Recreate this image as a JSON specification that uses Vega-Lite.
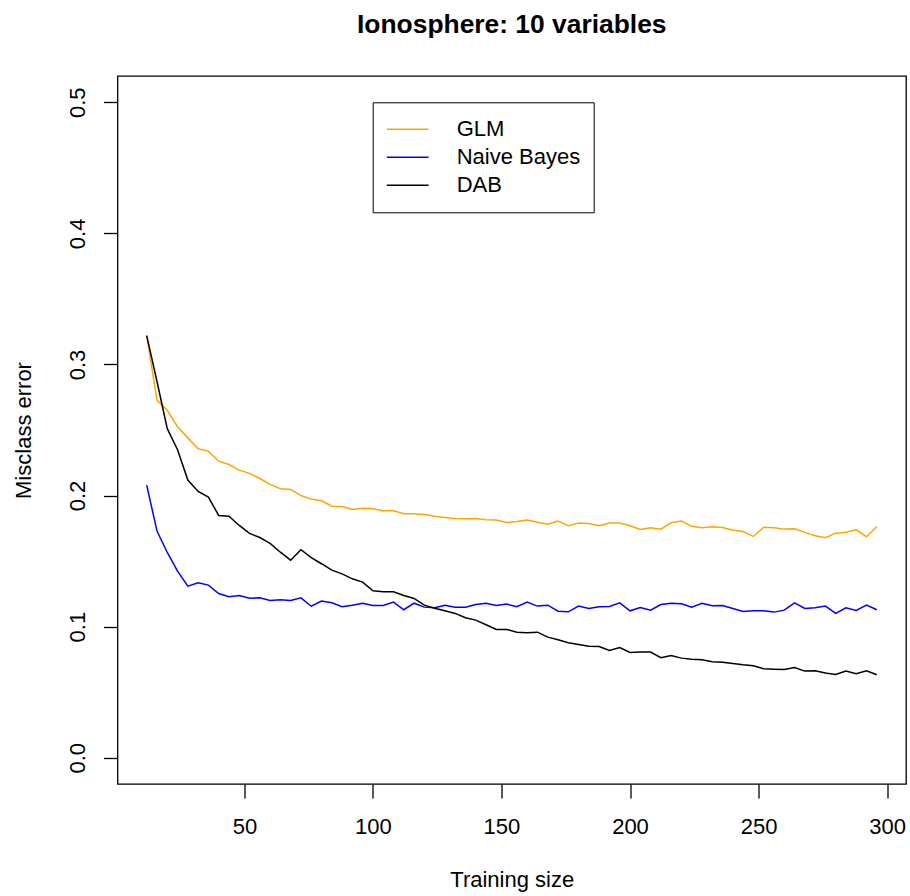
{
  "$schema": "https://vega.github.io/schema/vega-lite/v6.json",
  "autosize": "none",
  "padding": {"left": 117.5, "top": 76, "right": 4, "bottom": 112},
  "width": 788.5,
  "height": 708,
  "background": "white",
  "title": {
    "text": "Ionosphere: 10 variables",
    "font": "Liberation Sans",
    "fontSize": 26.4,
    "fontWeight": "bold",
    "color": "black",
    "anchor": "middle",
    "baseline": "alphabetic",
    "offset": 17
  },
  "config": {
    "view": {"stroke": "black", "strokeWidth": 1.3},
    "font": "Liberation Sans"
  },
  "data": {
    "values": [
      {"x":12,"model":"GLM","err":0.322},{"x":16,"model":"GLM","err":0.2728},{"x":20,"model":"GLM","err":0.265},{"x":24,"model":"GLM","err":0.2525},{"x":28,"model":"GLM","err":0.244},{"x":32,"model":"GLM","err":0.2357},{"x":36,"model":"GLM","err":0.2339},{"x":40,"model":"GLM","err":0.2262},{"x":44,"model":"GLM","err":0.2237},{"x":48,"model":"GLM","err":0.2194},{"x":52,"model":"GLM","err":0.2169},{"x":56,"model":"GLM","err":0.213},{"x":60,"model":"GLM","err":0.2085},{"x":64,"model":"GLM","err":0.2052},{"x":68,"model":"GLM","err":0.2047},{"x":72,"model":"GLM","err":0.2},{"x":76,"model":"GLM","err":0.1973},{"x":80,"model":"GLM","err":0.196},{"x":84,"model":"GLM","err":0.1919},{"x":88,"model":"GLM","err":0.1917},{"x":92,"model":"GLM","err":0.1894},{"x":96,"model":"GLM","err":0.1904},{"x":100,"model":"GLM","err":0.1899},{"x":104,"model":"GLM","err":0.1884},{"x":108,"model":"GLM","err":0.1884},{"x":112,"model":"GLM","err":0.1861},{"x":116,"model":"GLM","err":0.1861},{"x":120,"model":"GLM","err":0.1856},{"x":124,"model":"GLM","err":0.1843},{"x":128,"model":"GLM","err":0.1833},{"x":132,"model":"GLM","err":0.1825},{"x":136,"model":"GLM","err":0.1823},{"x":140,"model":"GLM","err":0.1825},{"x":144,"model":"GLM","err":0.1815},{"x":148,"model":"GLM","err":0.1813},{"x":152,"model":"GLM","err":0.1795},{"x":156,"model":"GLM","err":0.1802},{"x":160,"model":"GLM","err":0.1813},{"x":164,"model":"GLM","err":0.1797},{"x":168,"model":"GLM","err":0.1782},{"x":172,"model":"GLM","err":0.1805},{"x":176,"model":"GLM","err":0.177},{"x":180,"model":"GLM","err":0.179},{"x":184,"model":"GLM","err":0.1787},{"x":188,"model":"GLM","err":0.177},{"x":192,"model":"GLM","err":0.179},{"x":196,"model":"GLM","err":0.179},{"x":200,"model":"GLM","err":0.177},{"x":204,"model":"GLM","err":0.1741},{"x":208,"model":"GLM","err":0.1754},{"x":212,"model":"GLM","err":0.1744},{"x":216,"model":"GLM","err":0.1792},{"x":220,"model":"GLM","err":0.1805},{"x":224,"model":"GLM","err":0.1765},{"x":228,"model":"GLM","err":0.1754},{"x":232,"model":"GLM","err":0.1762},{"x":236,"model":"GLM","err":0.1757},{"x":240,"model":"GLM","err":0.1736},{"x":244,"model":"GLM","err":0.1726},{"x":248,"model":"GLM","err":0.1688},{"x":252,"model":"GLM","err":0.1759},{"x":256,"model":"GLM","err":0.1754},{"x":260,"model":"GLM","err":0.1744},{"x":264,"model":"GLM","err":0.1747},{"x":268,"model":"GLM","err":0.1719},{"x":272,"model":"GLM","err":0.1693},{"x":276,"model":"GLM","err":0.1678},{"x":280,"model":"GLM","err":0.1713},{"x":284,"model":"GLM","err":0.1721},{"x":288,"model":"GLM","err":0.1739},{"x":292,"model":"GLM","err":0.1686},{"x":296,"model":"GLM","err":0.1762},
      {"x":12,"model":"Naive Bayes","err":0.208},{"x":16,"model":"Naive Bayes","err":0.1729},{"x":20,"model":"Naive Bayes","err":0.1566},{"x":24,"model":"Naive Bayes","err":0.1424},{"x":28,"model":"Naive Bayes","err":0.1309},{"x":32,"model":"Naive Bayes","err":0.1335},{"x":36,"model":"Naive Bayes","err":0.1317},{"x":40,"model":"Naive Bayes","err":0.1253},{"x":44,"model":"Naive Bayes","err":0.1228},{"x":48,"model":"Naive Bayes","err":0.1238},{"x":52,"model":"Naive Bayes","err":0.1217},{"x":56,"model":"Naive Bayes","err":0.122},{"x":60,"model":"Naive Bayes","err":0.12},{"x":64,"model":"Naive Bayes","err":0.1205},{"x":68,"model":"Naive Bayes","err":0.12},{"x":72,"model":"Naive Bayes","err":0.122},{"x":76,"model":"Naive Bayes","err":0.1156},{"x":80,"model":"Naive Bayes","err":0.1195},{"x":84,"model":"Naive Bayes","err":0.1182},{"x":88,"model":"Naive Bayes","err":0.1152},{"x":92,"model":"Naive Bayes","err":0.1164},{"x":96,"model":"Naive Bayes","err":0.1179},{"x":100,"model":"Naive Bayes","err":0.1162},{"x":104,"model":"Naive Bayes","err":0.1162},{"x":108,"model":"Naive Bayes","err":0.1187},{"x":112,"model":"Naive Bayes","err":0.1129},{"x":116,"model":"Naive Bayes","err":0.1179},{"x":120,"model":"Naive Bayes","err":0.1149},{"x":124,"model":"Naive Bayes","err":0.1144},{"x":128,"model":"Naive Bayes","err":0.1164},{"x":132,"model":"Naive Bayes","err":0.1149},{"x":136,"model":"Naive Bayes","err":0.1149},{"x":140,"model":"Naive Bayes","err":0.1169},{"x":144,"model":"Naive Bayes","err":0.1178},{"x":148,"model":"Naive Bayes","err":0.1162},{"x":152,"model":"Naive Bayes","err":0.1172},{"x":156,"model":"Naive Bayes","err":0.1152},{"x":160,"model":"Naive Bayes","err":0.1187},{"x":164,"model":"Naive Bayes","err":0.1157},{"x":168,"model":"Naive Bayes","err":0.1164},{"x":172,"model":"Naive Bayes","err":0.1118},{"x":176,"model":"Naive Bayes","err":0.1113},{"x":180,"model":"Naive Bayes","err":0.1157},{"x":184,"model":"Naive Bayes","err":0.1139},{"x":188,"model":"Naive Bayes","err":0.1152},{"x":192,"model":"Naive Bayes","err":0.1154},{"x":196,"model":"Naive Bayes","err":0.1182},{"x":200,"model":"Naive Bayes","err":0.1121},{"x":204,"model":"Naive Bayes","err":0.1146},{"x":208,"model":"Naive Bayes","err":0.1126},{"x":212,"model":"Naive Bayes","err":0.1169},{"x":216,"model":"Naive Bayes","err":0.1179},{"x":220,"model":"Naive Bayes","err":0.1174},{"x":224,"model":"Naive Bayes","err":0.1148},{"x":228,"model":"Naive Bayes","err":0.1179},{"x":232,"model":"Naive Bayes","err":0.1159},{"x":236,"model":"Naive Bayes","err":0.1162},{"x":240,"model":"Naive Bayes","err":0.1139},{"x":244,"model":"Naive Bayes","err":0.1116},{"x":248,"model":"Naive Bayes","err":0.1121},{"x":252,"model":"Naive Bayes","err":0.1121},{"x":256,"model":"Naive Bayes","err":0.1111},{"x":260,"model":"Naive Bayes","err":0.1126},{"x":264,"model":"Naive Bayes","err":0.1182},{"x":268,"model":"Naive Bayes","err":0.1139},{"x":272,"model":"Naive Bayes","err":0.1144},{"x":276,"model":"Naive Bayes","err":0.1157},{"x":280,"model":"Naive Bayes","err":0.1101},{"x":284,"model":"Naive Bayes","err":0.1144},{"x":288,"model":"Naive Bayes","err":0.1124},{"x":292,"model":"Naive Bayes","err":0.1164},{"x":296,"model":"Naive Bayes","err":0.1129},
      {"x":12,"model":"DAB","err":0.322},{"x":16,"model":"DAB","err":0.287},{"x":20,"model":"DAB","err":0.251},{"x":24,"model":"DAB","err":0.235},{"x":28,"model":"DAB","err":0.2118},{"x":32,"model":"DAB","err":0.2031},{"x":36,"model":"DAB","err":0.1988},{"x":40,"model":"DAB","err":0.1848},{"x":44,"model":"DAB","err":0.1843},{"x":48,"model":"DAB","err":0.1772},{"x":52,"model":"DAB","err":0.1711},{"x":56,"model":"DAB","err":0.168},{"x":60,"model":"DAB","err":0.1635},{"x":64,"model":"DAB","err":0.1568},{"x":68,"model":"DAB","err":0.1507},{"x":72,"model":"DAB","err":0.1587},{"x":76,"model":"DAB","err":0.1526},{"x":80,"model":"DAB","err":0.148},{"x":84,"model":"DAB","err":0.1431},{"x":88,"model":"DAB","err":0.1403},{"x":92,"model":"DAB","err":0.1365},{"x":96,"model":"DAB","err":0.134},{"x":100,"model":"DAB","err":0.1274},{"x":104,"model":"DAB","err":0.1266},{"x":108,"model":"DAB","err":0.1266},{"x":112,"model":"DAB","err":0.1238},{"x":116,"model":"DAB","err":0.1215},{"x":120,"model":"DAB","err":0.1164},{"x":124,"model":"DAB","err":0.1141},{"x":128,"model":"DAB","err":0.1121},{"x":132,"model":"DAB","err":0.1101},{"x":136,"model":"DAB","err":0.1068},{"x":140,"model":"DAB","err":0.105},{"x":144,"model":"DAB","err":0.1015},{"x":148,"model":"DAB","err":0.0979},{"x":152,"model":"DAB","err":0.0979},{"x":156,"model":"DAB","err":0.0958},{"x":160,"model":"DAB","err":0.0953},{"x":164,"model":"DAB","err":0.0958},{"x":168,"model":"DAB","err":0.092},{"x":172,"model":"DAB","err":0.09},{"x":176,"model":"DAB","err":0.0877},{"x":180,"model":"DAB","err":0.0864},{"x":184,"model":"DAB","err":0.0851},{"x":188,"model":"DAB","err":0.0849},{"x":192,"model":"DAB","err":0.0818},{"x":196,"model":"DAB","err":0.0841},{"x":200,"model":"DAB","err":0.0803},{"x":204,"model":"DAB","err":0.0806},{"x":208,"model":"DAB","err":0.0806},{"x":212,"model":"DAB","err":0.0763},{"x":216,"model":"DAB","err":0.078},{"x":220,"model":"DAB","err":0.076},{"x":224,"model":"DAB","err":0.0752},{"x":228,"model":"DAB","err":0.0747},{"x":232,"model":"DAB","err":0.0732},{"x":236,"model":"DAB","err":0.0729},{"x":240,"model":"DAB","err":0.0719},{"x":244,"model":"DAB","err":0.0709},{"x":248,"model":"DAB","err":0.0702},{"x":252,"model":"DAB","err":0.0679},{"x":256,"model":"DAB","err":0.0676},{"x":260,"model":"DAB","err":0.0674},{"x":264,"model":"DAB","err":0.0689},{"x":268,"model":"DAB","err":0.0661},{"x":272,"model":"DAB","err":0.0663},{"x":276,"model":"DAB","err":0.0646},{"x":280,"model":"DAB","err":0.0636},{"x":284,"model":"DAB","err":0.0661},{"x":288,"model":"DAB","err":0.0641},{"x":292,"model":"DAB","err":0.0663},{"x":296,"model":"DAB","err":0.0633}
    ]
  },
  "mark": {"type": "line", "strokeWidth": 1.5, "clip": true},
  "encoding": {
    "x": {
      "field": "x",
      "type": "quantitative",
      "scale": {"domain": [0.64, 307.36], "nice": false, "zero": false},
      "axis": {
        "title": "Training size",
        "values": [50, 100, 150, 200, 250, 300],
        "grid": false,
        "domain": false,
        "tickSize": 14,
        "tickColor": "black",
        "tickWidth": 1.3,
        "labelFont": "Liberation Sans",
        "labelFontSize": 22,
        "labelColor": "black",
        "labelPadding": 18,
        "labelBaseline": "top",
        "labelAlign": "center",
        "labelFlush": false,
        "labelOverlap": false,
        "titleFont": "Liberation Sans",
        "titleFontSize": 22,
        "titleFontWeight": "normal",
        "titleColor": "black",
        "titleBaseline": "alphabetic",
        "titleY": 102.5,
        "titleX": 394.25
      }
    },
    "y": {
      "field": "err",
      "type": "quantitative",
      "scale": {"domain": [-0.02, 0.52], "nice": false, "zero": false},
      "axis": {
        "title": "Misclass error",
        "values": [0, 0.1, 0.2, 0.3, 0.4, 0.5],
        "format": ".1f",
        "grid": false,
        "domain": false,
        "tickSize": 14,
        "tickColor": "black",
        "tickWidth": 1.3,
        "labelFont": "Liberation Sans",
        "labelFontSize": 22,
        "labelColor": "black",
        "labelAngle": 270,
        "labelAlign": "center",
        "labelBaseline": "alphabetic",
        "labelPadding": 19.5,
        "labelFlush": false,
        "labelOverlap": false,
        "titleFont": "Liberation Sans",
        "titleFontSize": 22,
        "titleFontWeight": "normal",
        "titleColor": "black",
        "titleAngle": 270,
        "titleAlign": "center",
        "titleBaseline": "alphabetic",
        "titleX": -87,
        "titleY": 354
      }
    },
    "color": {
      "field": "model",
      "type": "nominal",
      "sort": ["GLM", "Naive Bayes", "DAB"],
      "scale": {"domain": ["GLM", "Naive Bayes", "DAB"], "range": ["#FFA500", "#0000FF", "#000000"]},
      "legend": {
        "title": null,
        "orient": "none",
        "legendX": 255.2,
        "legendY": 26.3,
        "direction": "vertical",
        "fillColor": "white",
        "strokeColor": "black",
        "padding": 13,
        "symbolType": "stroke",
        "symbolSize": 1740,
        "symbolStrokeWidth": 1.5,
        "labelFont": "Liberation Sans",
        "labelFontSize": 22,
        "labelColor": "black",
        "labelOffset": 27,
        "clipHeight": 28,
        "rowPadding": 0
      }
    }
  }
}
